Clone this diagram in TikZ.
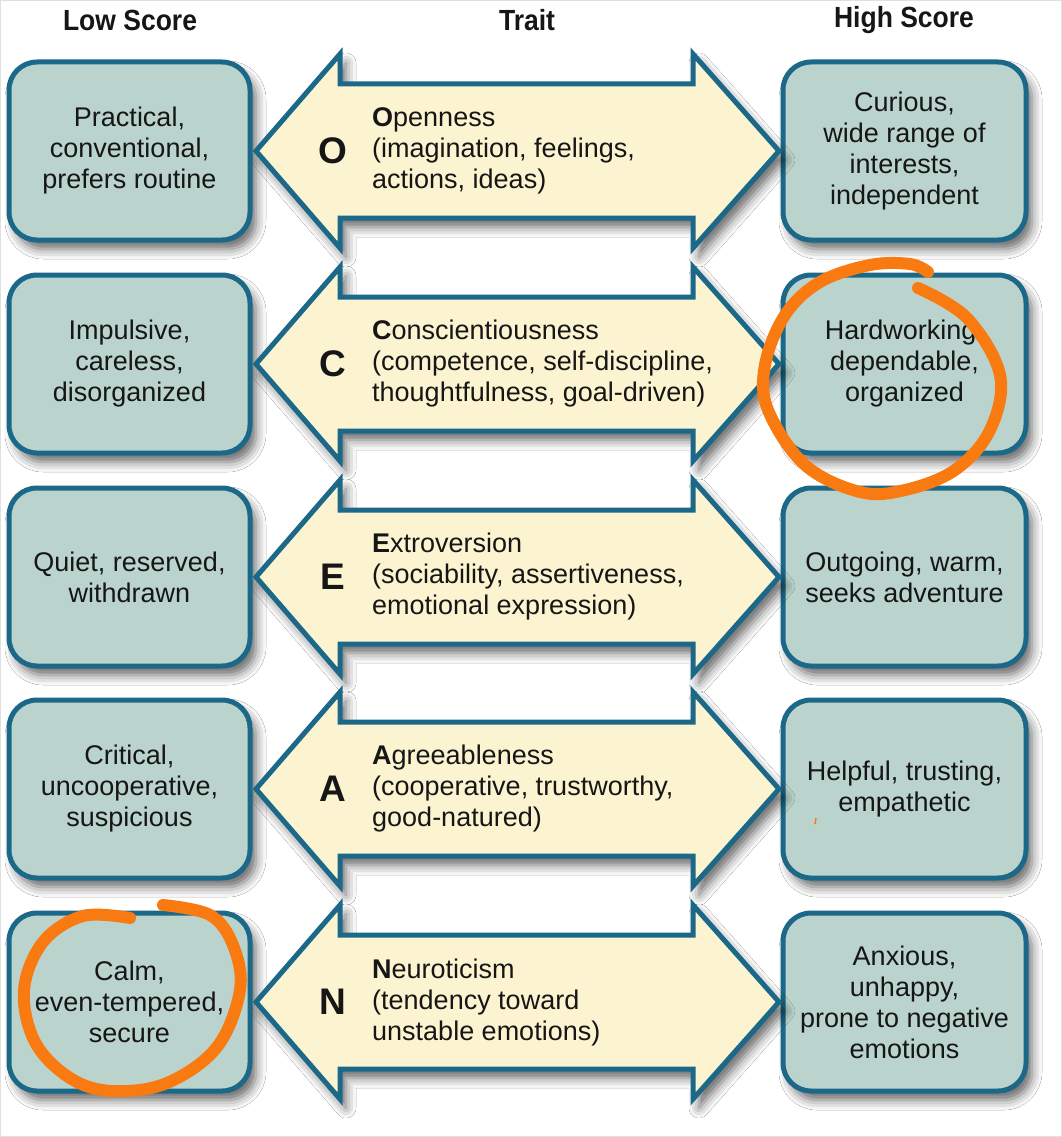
\documentclass[tikz,border=0pt]{standalone}
\usepackage{fontspec}
\setmainfont{Liberation Sans}
\usetikzlibrary{shadows.blur}
\definecolor{boxfill}{RGB}{186,212,205}
\definecolor{edge}{RGB}{28,104,136}
\definecolor{cream}{RGB}{252,244,208}
\definecolor{ink}{RGB}{22,22,22}
\definecolor{marker}{RGB}{250,122,18}
\begin{document}
\begin{tikzpicture}[x=1pt,y=-1pt,
  softshadow/.style={blur shadow={shadow xshift=6pt, shadow yshift=-9pt, shadow blur radius=10pt, shadow opacity=60}},
  scorebox/.style={draw=edge, fill=boxfill, line width=5pt, rounded corners=28pt,
    minimum height=178pt, align=center, text=ink, inner sep=0pt,
    font=\fontsize{27}{31}\selectfont, softshadow},
  lowbox/.style={scorebox, minimum width=241pt},
  highbox/.style={scorebox, minimum width=243pt},
  arrowbody/.style={draw=edge, fill=cream, line width=5pt, line join=miter, softshadow},
  letter/.style={text=ink, font=\fontsize{37}{40}\selectfont\bfseries, inner sep=0pt},
  desc/.style={text=ink, align=left, anchor=west, inner sep=0pt, font=\fontsize{27}{31}\selectfont},
  header/.style={text=ink, font=\fontsize{26.5}{30}\selectfont\bfseries, inner sep=0pt, yscale=1.1},
  ring/.style={draw=marker, line width=12pt, line cap=round, line join=round}
]
\useasboundingbox (0,0) rectangle (1062,1137);
\fill[white] (0,0) rectangle (1062,1137);
\draw[black!12, line width=2pt] (0,0) rectangle (1062,1137);

% headers
\node[header] (hlow) at (130,20) {Low Score};
\node[header] (htrait) at (527,20) {Trait};
\node[header] (hhigh) at (904,20) {High Score};

% rows
\foreach \i/\cy/\ltext/\L/\dtext/\htext in {
  1/151/{Practical,\\conventional,\\prefers routine}/O/{{\bfseries O}penness\\(imagination, feelings,\\actions, ideas)}/{Curious,\\wide range of\\interests,\\independent},
  2/364/{Impulsive,\\careless,\\disorganized}/C/{{\bfseries C}onscientiousness\\(competence, self-discipline,\\thoughtfulness, goal-driven)}/{Hardworking,\\dependable,\\organized},
  3/577/{Quiet, reserved,\\withdrawn}/E/{{\bfseries E}xtroversion\\(sociability, assertiveness,\\emotional expression)}/{Outgoing, warm,\\seeks adventure},
  4/789/{Critical,\\uncooperative,\\suspicious}/A/{{\bfseries A}greeableness\\(cooperative, trustworthy,\\good-natured)}/{Helpful, trusting,\\empathetic},
  5/1002/{Calm,\\even-tempered,\\secure}/N/{{\bfseries N}euroticism\\(tendency toward\\unstable emotions)}/{Anxious,\\unhappy,\\prone to negative\\emotions}}
{
  \node[lowbox] (low\i) at (129.5,\cy) {\ltext};
  \node[highbox] (high\i) at (904.5,\cy) {\htext};
  \path[arrowbody] (256,\cy) -- (340,\cy-97) -- (340,\cy-67) -- (693,\cy-67) -- (693,\cy-97)
     -- (779,\cy) -- (693,\cy+97) -- (693,\cy+67) -- (340,\cy+67) -- (340,\cy+97) -- cycle;
  \node[letter] (let\i) at (333,\cy) {\L};
  \node[desc] (desc\i) at (372,\cy) {\dtext};
}

% hand-drawn marks
\draw[ring] plot[smooth, tension=0.6] coordinates {
  (918,288) (967,318) (1000,375) (990,430) (955,470) (905,490) (860,492) (805,465)
  (768,410) (765,365) (785,315) (820,282) (870,265) (910,264) (928,272)};
\draw[ring] plot[smooth, tension=0.6] coordinates {
  (130,918) (83,916) (43,942) (24,990) (35,1042) (70,1078) (112,1091) (167,1083)
  (217,1047) (240,990) (233,945) (210,915) (163,905)};
\draw[marker, line width=1.5pt] (816,818) -- (815,824);
\end{tikzpicture}
\end{document}
